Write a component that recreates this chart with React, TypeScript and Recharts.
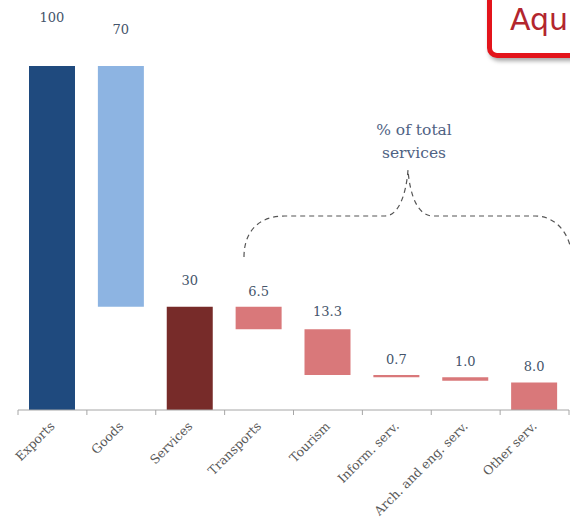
import React from "react";
import { BarChart, Bar, XAxis, YAxis, Cell, LabelList } from "recharts";

const categories = ["Exports", "Goods", "Services", "Transports", "Tourism", "Inform. serv.", "Arch. and eng. serv.", "Other serv."];
const baseValues = [0, 30, 0, 23.5, 10.2, 9.5, 8.5, 0];
const barValues = [100, 70, 30, 6.5, 13.3, 0.7, 1.0, 8.0];
const valueLabels = ["100", "70", "30", "6.5", "13.3", "0.7", "1.0", "8.0"];

const barColors = ["#1f4a7e", "#8db4e2", "#772b29", "#d9787a", "#d9787a", "#d9787a", "#d9787a", "#d9787a"];
const labelLift = [44, 32, 22, 11, 13, 11, 11, 11];

const data = categories.map((name, i) => ({ name, base: baseValues[i], value: barValues[i], label: valueLabels[i] }));

const W = 570;
const H = 519;
const M = { top: 66, right: 1, left: 18, bottom: 0 };
const band = (W - M.left - M.right) / categories.length;

const Tick = (props: any) => {
  const { x, y, payload, index } = props;
  const axisY = y - 8;
  const left = x - band / 2;
  const ax = x + 3;
  const ay = axisY + 17;
  return (
    <g>
      <line x1={left} y1={axisY} x2={left} y2={axisY + 5} stroke="#a6a6a6" />
      {index === categories.length - 1 && (
        <line x1={x + band / 2} y1={axisY} x2={x + band / 2} y2={axisY + 5} stroke="#a6a6a6" />
      )}
      <text
        x={ax}
        y={ay}
        transform={`rotate(-45 ${ax} ${ay})`}
        textAnchor="end"
        fontFamily="DejaVu Serif"
        fontSize={12.5}
        fill="#595959"
      >
        {payload.value}
      </text>
    </g>
  );
};

const ValueLabel = (props: any) => {
  const { x, y, width, index, value } = props;
  return (
    <text
      x={x + width / 2}
      y={y - labelLift[index]}
      textAnchor="middle"
      fontFamily="DejaVu Serif"
      fontSize={13}
      fill="#44546a"
    >
      {value}
    </text>
  );
};

export default function App() {
  return (
    <div style={{ position: "absolute", left: 0, top: 0, width: W, height: H, background: "#fff", overflow: "hidden" }}>
      <BarChart width={W} height={H} data={data} margin={M} barSize={46}>
        <YAxis hide domain={[0, 100]} />
        <XAxis
          dataKey="name"
          height={109}
          interval={0}
          tickLine={false}
          axisLine={{ stroke: "#a6a6a6" }}
          tick={<Tick />}
        />
        <Bar dataKey="base" stackId="w" fill="transparent" isAnimationActive={false} />
        <Bar dataKey="value" stackId="w" isAnimationActive={false}>
          {data.map((d, i) => (
            <Cell key={d.name} fill={barColors[i]} />
          ))}
          <LabelList dataKey="label" content={<ValueLabel />} />
        </Bar>
      </BarChart>
      <svg width={W} height={H} style={{ position: "absolute", left: 0, top: 0, pointerEvents: "none" }}>
        <path
          d="M244,257 C244,232 258,216 285,216 L385,216 C398,216 406,196 408,170 C410,196 418,216 433,216 L535,216 C555,216 568,232 571,250"
          fill="none"
          stroke="#555"
          strokeWidth={1.2}
          strokeDasharray="5 4"
        />
        <text x={414} y={135} textAnchor="middle" fontFamily="DejaVu Serif" fontSize={15.5} fill="#4f6283">% of total</text>
        <text x={414} y={158} textAnchor="middle" fontFamily="DejaVu Serif" fontSize={15.5} fill="#4f6283">services</text>
      </svg>
      <div
        style={{
          position: "absolute",
          left: 487,
          top: -12,
          width: 120,
          height: 70,
          border: "5px solid #e3141b",
          borderRadius: 10,
          boxShadow: "2px 3px 4px rgba(0,0,0,0.35)",
          background: "#fff",
          boxSizing: "border-box",
        }}
      >
        <span
          style={{
            position: "absolute",
            left: 18,
            top: 10,
            fontFamily: "DejaVu Sans",
            fontSize: 30,
            lineHeight: "34px",
            color: "#b3262e",
          }}
        >
          Aqu
        </span>
      </div>
    </div>
  );
}
